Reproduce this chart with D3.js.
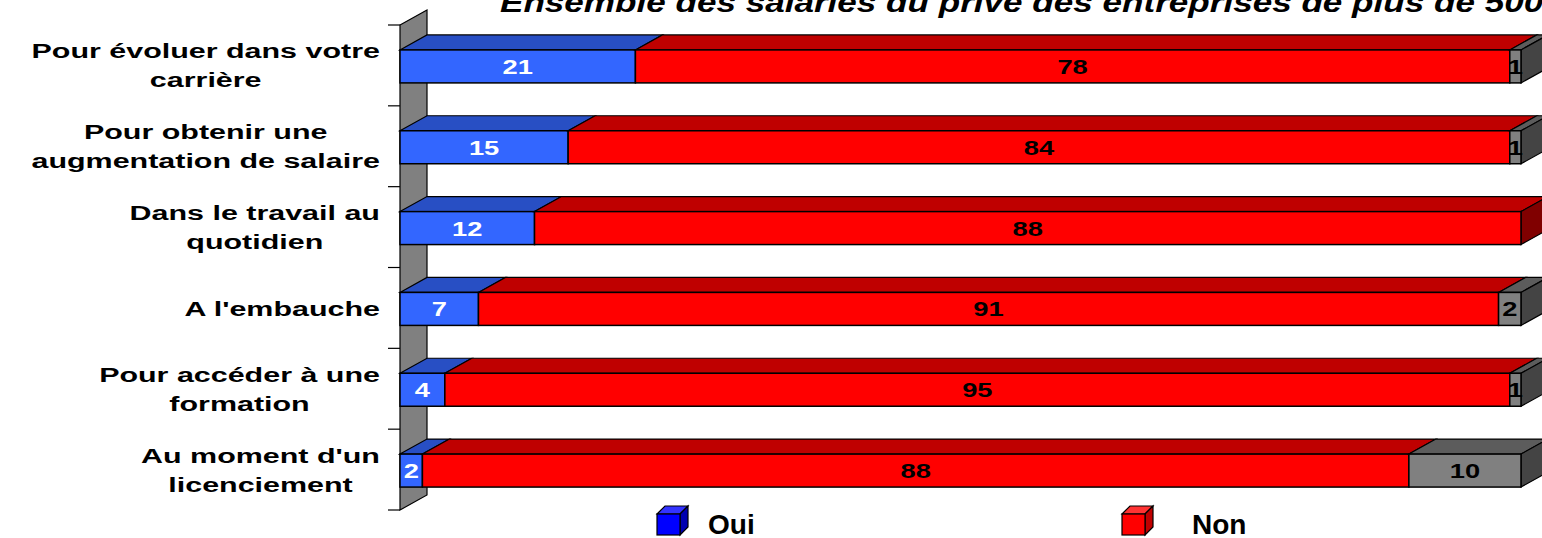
<!DOCTYPE html>
<html>
<head>
<meta charset="utf-8">
<script src="https://cdn.jsdelivr.net/npm/d3@7"></script>
<style>
    body { margin: 0; background: #ffffff; overflow: hidden; }
    text { font-family: "Liberation Sans", Arial, sans-serif; font-weight: bold; }
</style>
</head>
<body>
<div id="chart"></div>
<script>
// chart data
var titleText = 'Ensemble des salariés du privé des entreprises de plus de 5000 salariés';
var categories = ['Pour évoluer dans votre carrière', 'Pour obtenir une augmentation de salaire',
    'Dans le travail au quotidien', "A l'embauche", 'Pour accéder à une formation',
    "Au moment d'un licenciement"];
var labelLines = [
    ['Pour évoluer dans votre', 'carrière'],
    ['Pour obtenir une', 'augmentation de salaire'],
    ['Dans le travail au', 'quotidien'],
    ["A l'embauche"],
    ['Pour accéder à une', 'formation'],
    ["Au moment d'un", 'licenciement']
];
var seriesNames = ['Oui', 'Non', 'NSP'];
var legendNames = ['Oui', 'Non'];
var oui = [21, 15, 12, 7, 4, 2];
var non = [78, 84, 88, 91, 95, 88];
var nsp = [1, 1, 0, 2, 1, 10];

// drawing variables
var width = 1542;
var height = 538;
var depthX = 27;
var depthY = 15;
var labelStretch = 1.45;
var valueStretch = 1.3;

var colors = {
    'Oui': { front: '#3366ff', top: '#284fc4', side: '#1a3a99', text: '#ffffff' },
    'Non': { front: '#ff0000', top: '#bf0000', side: '#800000', text: '#000000' },
    'NSP': { front: '#808080', top: '#5c5c5c', side: '#444444', text: '#000000' }
};
var legendColors = {
    'Oui': { front: '#0000ff', top: '#3333ff', side: '#0000b0' },
    'Non': { front: '#ff0000', top: '#ff3333', side: '#c00000' }
};

var table = categories.map(function (c, i) {
    return { cat: c, Oui: oui[i], Non: non[i], NSP: nsp[i] };
});
var stacked = d3.stack().keys(seriesNames)(table);

var svg = d3.select('#chart').append('svg')
    .attr('width', width)
    .attr('height', height);

var x = d3.scaleLinear().domain([0, 100]).range([400, 1521]);
var y = d3.scaleBand().domain(categories).range([25, 510])
    .paddingInner(0.592).paddingOuter(0.296);

function poly(points) {
    return 'M' + points.map(function (p) { return p.join(','); }).join('L') + 'Z';
}

// title (cut at the top like the original)
svg.append('text')
    .attr('transform', 'translate(500, 11.5) scale(1.3, 1)')
    .style('font-size', '27px')
    .style('font-style', 'italic')
    .text(titleText);

// side wall
var x0 = x(0);
var wallTop = y.range()[0];
var wallBottom = y.range()[1];
svg.append('path')
    .attr('d', poly([[x0, wallTop], [x0 + depthX, wallTop - depthY],
        [x0 + depthX, wallBottom - depthY], [x0, wallBottom]]))
    .attr('fill', '#808080')
    .attr('stroke', '#000')
    .attr('stroke-width', 1.2);

// tick marks between categories
var tickPos = d3.range(categories.length + 1).map(function (i) { return wallTop + i * y.step(); });
svg.selectAll('.tick')
    .data(tickPos)
    .enter().append('line')
    .attr('x1', x0 - 12)
    .attr('x2', x0)
    .attr('y1', function (d) { return d; })
    .attr('y2', function (d) { return d; })
    .attr('stroke', '#000')
    .attr('stroke-width', 1.2);

// bars
stacked.forEach(function (layer) {
    var c = colors[layer.key];
    layer.forEach(function (d) {
        var xa = x(d[0]);
        var xb = x(d[1]);
        if (xb - xa <= 0) return;
        var yt = y(d.data.cat) + 1;
        var yb = yt + y.bandwidth();
        var g = svg.append('g');
        g.append('path')
            .attr('d', poly([[xa, yt], [xa + depthX, yt - depthY], [xb + depthX, yt - depthY], [xb, yt]]))
            .attr('fill', c.top)
            .attr('stroke', '#000')
            .attr('stroke-width', 1.2);
        var total = d.data.Oui + d.data.Non + d.data.NSP;
        if (d[1] === total) {
            g.append('path')
                .attr('d', poly([[xb, yt], [xb + depthX, yt - depthY], [xb + depthX, yb - depthY], [xb, yb]]))
                .attr('fill', c.side)
                .attr('stroke', '#000')
                .attr('stroke-width', 1.2);
        }
        g.append('rect')
            .attr('x', xa)
            .attr('y', yt)
            .attr('width', xb - xa)
            .attr('height', yb - yt)
            .attr('fill', c.front)
            .attr('stroke', '#000')
            .attr('stroke-width', 1.5);
        g.append('text')
            .attr('transform', 'translate(' + ((xa + xb) / 2) + ',' + ((yt + yb) / 2 + 7.5) + ') scale(' + valueStretch + ',1)')
            .style('text-anchor', 'middle')
            .style('font-size', '21px')
            .attr('fill', c.text)
            .text(d[1] - d[0]);
    });
});

// category labels, wrapped lines centred in a right aligned block
var labelRight = 380;
categories.forEach(function (cat, i) {
    var cy = y(cat) + 1 + y.bandwidth() / 2;
    var lines = labelLines[i];
    var g = svg.append('g');
    var texts = lines.map(function (l, k) {
        var by = lines.length === 1 ? cy + 7.5 : cy - 8 + k * 29;
        return g.append('text')
            .attr('data-y', by)
            .style('font-size', '21px')
            .style('text-anchor', 'middle')
            .text(l);
    });
    var maxW = d3.max(texts, function (t) { return t.node().getComputedTextLength(); }) * labelStretch;
    var cx = labelRight - maxW / 2;
    texts.forEach(function (t) {
        t.attr('transform', 'translate(' + cx + ',' + t.attr('data-y') + ') scale(' + labelStretch + ',1)');
    });
});

// legend
var legendX = [657, 1122];
var legendTextX = [708, 1192];
legendNames.forEach(function (name, i) {
    var c = legendColors[name];
    var lx = legendX[i], ly = 514, w = 23, h = 21, dx = 8, dy = 8;
    svg.append('path')
        .attr('d', poly([[lx, ly], [lx + dx, ly - dy], [lx + w + dx, ly - dy], [lx + w, ly]]))
        .attr('fill', c.top).attr('stroke', '#000').attr('stroke-width', 1.2);
    svg.append('path')
        .attr('d', poly([[lx + w, ly], [lx + w + dx, ly - dy], [lx + w + dx, ly + h - dy], [lx + w, ly + h]]))
        .attr('fill', c.side).attr('stroke', '#000').attr('stroke-width', 1.2);
    svg.append('rect')
        .attr('x', lx).attr('y', ly).attr('width', w).attr('height', h)
        .attr('fill', c.front).attr('stroke', '#000').attr('stroke-width', 1.2);
    svg.append('text')
        .attr('x', legendTextX[i])
        .attr('y', 534)
        .style('font-size', '28px')
        .text(name);
});
</script>
</body>
</html>
